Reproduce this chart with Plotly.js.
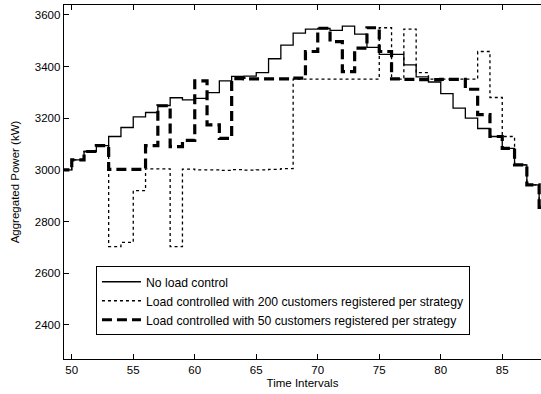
<!DOCTYPE html>
<html>
<head>
<meta charset="utf-8">
<script src="https://cdn.plot.ly/plotly-3.0.1.min.js"></script>
<style>html,body{margin:0;padding:0;background:#fff;}#chart{width:541px;height:394px;}</style>
</head>
<body>
<div id="chart"></div>
<script>
// Time interval starts (value holds from x to x+1)
var intervals = [49,50,51,52,53,54,55,56,57,58,59,60,61,62,63,64,65,66,67,68,69,70,71,72,73,74,75,76,77,78,79,80,81,82,83,84,85,86,87,88,89];

var noControl = [3000,3039,3071,3094,3129,3164,3205,3222,3249,3279,3271,3277,3299,3344,3362,3363,3376,3430,3483,3529,3545,3547,3540,3556,3525,3474,3447,3447,3406,3360,3340,3295,3239,3200,3160,3129,3083,3019,2942,2855,2855];

var control200 = [3000,3039,3071,3094,2703,2719,2920,3004,3004,2703,3003,3000,3000,2998,3001,2999,3000,3002,3005,3351,3351,3351,3351,3351,3351,3351,3550,3351,3545,3376,3351,3351,3351,3351,3458,3280,3129,3019,2942,2855,2855];

var control50 = [3000,3039,3071,3094,3002,3002,3002,3094,3248,3090,3114,3344,3174,3122,3353,3352,3352,3352,3352,3355,3458,3548,3496,3380,3471,3550,3458,3352,3350,3349,3349,3350,3350,3312,3214,3129,3083,3019,2942,2855,2855];

var names = [
  'No load control',
  'Load controlled with 200 customers registered per strategy',
  'Load controlled with 50 customers registered per strategy'
];

var traces = [
  {x: intervals, y: noControl, name: names[0], mode: 'lines',
   line: {shape: 'hv', color: '#000', width: 1.3}},
  {x: intervals, y: control200, name: names[1], mode: 'lines',
   line: {shape: 'hv', color: '#000', width: 1.3, dash: 'dot'}},
  {x: intervals, y: control50, name: names[2], mode: 'lines',
   line: {shape: 'hv', color: '#000', width: 3.2, dash: '10px,5px'}}
];

var fontFam = 'Liberation Sans, Arial, sans-serif';
var layout = {
  width: 541, height: 394,
  margin: {l: 64, r: 0, t: 5, b: 35},
  paper_bgcolor: '#fff', plot_bgcolor: '#fff',
  font: {family: fontFam, size: 11.5, color: '#000'},
  showlegend: true,
  xaxis: {
    range: [49.37, 88.15],
    tickvals: [50,55,60,65,70,75,80,85],
    ticks: 'inside', ticklen: 5, tickcolor: '#000', tickwidth: 1,
    showline: true, linecolor: '#000', linewidth: 1.3, mirror: 'ticks',
    showgrid: false, zeroline: false,
    title: {text: 'Time Intervals', font: {size: 11.5}, standoff: 4}
  },
  yaxis: {
    range: [2268, 3638],
    tickvals: [2400,2600,2800,3000,3200,3400,3600],
    ticks: 'inside', ticklen: 5, tickcolor: '#000', tickwidth: 1,
    showline: true, linecolor: '#000', linewidth: 1.3,
    showgrid: false, zeroline: false,
    title: {text: 'Aggregated Power (kW)', font: {size: 11.5}, standoff: 12}
  },
  legend: {
    x: 0.067, y: 0.262, xanchor: 'left', yanchor: 'top',
    bgcolor: '#fff', bordercolor: '#000', borderwidth: 1,
    font: {family: fontFam, size: 12.2, color: '#000'},
    itemwidth: 39,
    tracegroupgap: 0
  }
};

Plotly.newPlot('chart', traces, layout, {displayModeBar: false, staticPlot: true});
</script>
</body>
</html>
